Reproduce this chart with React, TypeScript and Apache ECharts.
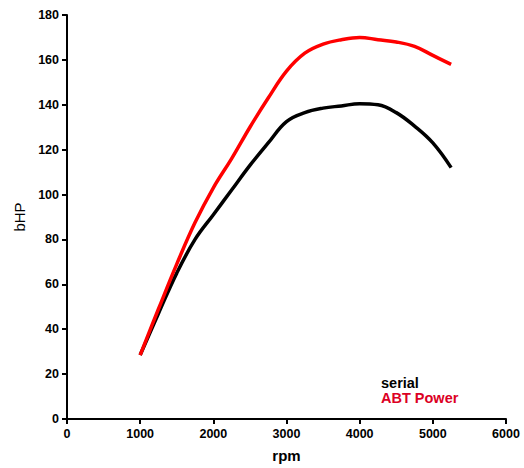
import React, { useEffect, useRef } from "react";
import * as echarts from "echarts";

const rpm = [1000, 1250, 1500, 1750, 2000, 2250, 2500, 2750, 3000, 3250, 3500, 3750, 4000, 4250, 4500, 4750, 5000, 5250];
const serial = [28.5, 47, 65, 80, 91, 102, 113, 123, 132.5, 136.5, 138.5, 139.5, 140.5, 140, 136.5, 130.5, 123, 112];
const abtPower = [28.5, 49, 69, 87.5, 103, 116, 130, 143, 155, 163, 167, 169, 170, 169, 168, 166, 162, 158];

const FONT = '"Liberation Sans", Arial, Helvetica, sans-serif';

export default function App() {
  const ref = useRef<HTMLDivElement>(null);
  useEffect(() => {
    if (!ref.current) return;
    const chart = echarts.init(ref.current, undefined, { renderer: "svg" });
    const axisCommon = {
      axisLine: { show: true, lineStyle: { color: "#000", width: 2 } },
      axisTick: { show: true, length: 5, lineStyle: { color: "#000", width: 2 } },
      splitLine: { show: false },
      axisLabel: { color: "#000", fontWeight: "bold", fontSize: 12.5, fontFamily: FONT, margin: 8, formatter: (v: number) => String(v) },
    };
    chart.setOption({
      animation: false,
      textStyle: { fontFamily: FONT },
      grid: { left: 67, right: 18, top: 15, bottom: 45, containLabel: false },
      xAxis: {
        type: "value",
        min: 0,
        max: 6000,
        interval: 1000,
        name: "rpm",
        nameLocation: "middle",
        nameGap: 29,
        nameTextStyle: { color: "#000", fontWeight: "bold", fontSize: 15, fontFamily: FONT },
        ...axisCommon,
      },
      yAxis: {
        type: "value",
        min: 0,
        max: 180,
        interval: 20,
        name: "bHP",
        nameLocation: "middle",
        nameGap: 40,
        nameTextStyle: { color: "#000", fontWeight: "normal", fontSize: 15, fontFamily: FONT },
        ...axisCommon,
      },
      series: [
        {
          name: "serial",
          type: "line",
          smooth: 0.4,
          showSymbol: false,
          symbol: "none",
          lineStyle: { color: "#000", width: 3.5 },
          data: rpm.map((r, i) => [r, serial[i]]),
          z: 2,
        },
        {
          name: "ABT Power",
          type: "line",
          smooth: 0.4,
          showSymbol: false,
          symbol: "none",
          lineStyle: { color: "#ff0000", width: 3.5 },
          data: rpm.map((r, i) => [r, abtPower[i]]),
          z: 3,
        },
      ],
      graphic: [
        {
          type: "text",
          left: 381,
          top: 375,
          style: { text: "serial", fill: "#000", font: `bold 14.5px ${FONT}` },
        },
        {
          type: "text",
          left: 381,
          top: 390,
          style: { text: "ABT Power", fill: "#dc0024", font: `bold 14.5px ${FONT}` },
        },
      ],
    });
    return () => chart.dispose();
  }, []);
  return (
    <div
      ref={ref}
      style={{ position: "fixed", left: 0, top: 0, width: 524, height: 468, background: "#fff" }}
    />
  );
}
